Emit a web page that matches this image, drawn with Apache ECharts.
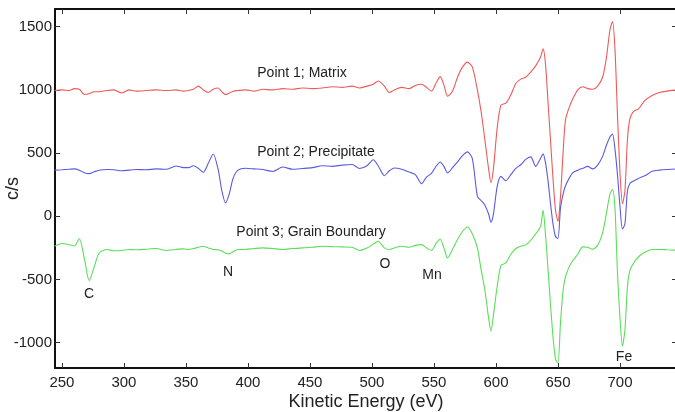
<!DOCTYPE html>
<html>
<head>
<meta charset="utf-8">
<script src="https://cdn.jsdelivr.net/npm/echarts@6/dist/echarts.min.js"></script>
<style>html,body{margin:0;padding:0;background:#fff}#c{width:675px;height:412px}</style>
</head>
<body>
<div id="c"></div>
<script>
// Kinetic energy grid (eV)
var energy = [244,250,256,260,264,268,272,276,280,286,292,298,304,310,318,326,334,342,348,352,356,360,364,368,372,376,379,382,385,388,392,398,405,412,420,428,436,444,452,460,468,476,484,490,496,501,505,510,514,518,524,530,535,540,544,548,552,555,558,561,565,569,573,577,581,585,588,591,594,596,598,601,604,608,612,616,620,624,628,632,636,638,640,642,644,646,648,650,652,654,656,659,662,666,670,674,678,682,686,689,692,694,696,698,700,702,704,706,708,711,715,720,726,732,738,746];

// Point 1; Matrix (c/s)
var matrix = [995,1000,995,1010,1005,965,970,985,985,995,1000,975,1000,990,995,1000,995,1000,990,995,1005,1030,1000,980,1005,1015,985,962,975,990,995,1000,990,1005,1000,1010,1005,1015,1010,1015,1025,1020,1030,1015,1030,1045,1070,1030,980,1000,1020,1010,1035,1045,1020,990,1060,1105,1040,950,990,1100,1180,1220,1180,1000,830,610,380,266,380,700,880,895,960,1050,1085,1100,1140,1190,1260,1325,1200,900,600,300,50,-40,150,480,760,860,930,1000,1025,1010,1005,1030,1100,1250,1480,1540,1320,800,350,100,200,600,770,830,850,915,955,980,990,1000];

// Point 2; Precipitate (c/s)
var precipitate = [365,368,372,375,365,345,338,352,365,370,368,360,365,370,368,375,372,398,385,385,400,380,348,420,493,369,200,106,180,300,365,380,375,370,355,390,372,378,385,400,395,405,410,378,400,448,400,321,360,382,372,350,330,258,310,340,400,430,395,343,385,430,480,510,455,160,125,90,20,-47,20,237,316,282,330,380,408,450,470,395,460,495,420,280,100,-60,-160,-175,60,170,240,300,345,365,380,395,375,405,474,560,630,651,530,330,80,-100,-60,200,260,280,300,320,356,365,370,375];

// Point 3; Grain Boundary (c/s)
var grainBoundary = [-237,-215,-225,-235,-175,-330,-510,-400,-290,-263,-272,-270,-262,-265,-260,-255,-270,-262,-258,-262,-255,-245,-237,-250,-262,-265,-275,-290,-297,-280,-263,-262,-255,-250,-255,-262,-255,-250,-245,-237,-240,-242,-245,-270,-250,-220,-197,-250,-263,-250,-237,-245,-230,-224,-250,-270,-210,-179,-250,-329,-260,-184,-120,-84,-140,-250,-420,-579,-800,-908,-780,-553,-390,-368,-300,-255,-237,-226,-190,-140,-80,47,-150,-420,-700,-950,-1130,-1160,-850,-600,-480,-400,-350,-300,-242,-245,-260,-230,-131,20,180,211,60,-450,-800,-1027,-900,-560,-430,-370,-320,-285,-263,-262,-265,-268];

var xTicks = [250,300,350,400,450,500,550,600,650,700];
var yTicks = [-1000,-500,0,500,1000,1500];

var annotations = [
  {text:'Point 1; Matrix', x:302, y:73},
  {text:'Point 2; Precipitate', x:316, y:152},
  {text:'Point 3; Grain Boundary', x:311, y:232},
  {text:'C', x:89, y:294},
  {text:'N', x:228, y:272},
  {text:'O', x:385, y:264},
  {text:'Mn', x:432, y:275},
  {text:'Fe', x:624, y:357}
];

function pairs(vals){ return energy.map(function(e,i){ return [e, vals[i]]; }); }
function plain(v){ return String(v); }

var FONT = '"Liberation Sans", Arial, sans-serif';
var axisLine = {show:true, onZero:false, lineStyle:{color:'#111', width:2}};
var tick = {show:true, inside:true, length:5, lineStyle:{color:'#333', width:1}};

var chart = echarts.init(document.getElementById('c'), null, {renderer:'canvas'});
chart.setOption({
  animation:false,
  backgroundColor:'#fff',
  grid:{left:55, top:9, width:622, height:359, containLabel:false, outerBoundsMode:'none'},
  xAxis:[
    {type:'value', min:244.4, max:746, position:'bottom',
     name:'Kinetic Energy (eV)', nameLocation:'middle', nameGap:25, nameMoveOverlap:false,
     nameTextStyle:{fontFamily:FONT, fontSize:18, color:'#222', verticalAlign:'top'},
     axisLine:axisLine, splitLine:{show:false},
     axisTick:Object.assign({}, tick, {customValues:xTicks}),
     axisLabel:{customValues:xTicks, formatter:plain, fontFamily:FONT, fontSize:15, color:'#222', margin:7}},
    {type:'value', min:244.4, max:746, position:'top',
     axisLine:axisLine, splitLine:{show:false},
     axisTick:Object.assign({}, tick, {customValues:xTicks}),
     axisLabel:{show:false}}
  ],
  yAxis:[
    {type:'value', min:-1200, max:1640, position:'left',
     name:'c/s', nameLocation:'middle', nameGap:33, nameRotate:90, nameMoveOverlap:false,
     nameTextStyle:{fontFamily:FONT, fontSize:18, color:'#222'},
     axisLine:axisLine, splitLine:{show:false},
     axisTick:Object.assign({}, tick, {customValues:yTicks}),
     axisLabel:{customValues:yTicks, formatter:plain, fontFamily:FONT, fontSize:15, color:'#222', margin:3}},
    {type:'value', min:-1200, max:1640, position:'right',
     axisLine:axisLine, splitLine:{show:false},
     axisTick:Object.assign({}, tick, {customValues:yTicks}),
     axisLabel:{show:false}}
  ],
  series:[
    {name:'Point 1; Matrix', type:'line', data:pairs(matrix), showSymbol:false, smooth:0.25,
     lineStyle:{color:'#ee5a5a', width:1.1}, itemStyle:{color:'#ee5a5a'}},
    {name:'Point 2; Precipitate', type:'line', data:pairs(precipitate), showSymbol:false, smooth:0.25,
     lineStyle:{color:'#5a5ae0', width:1.1}, itemStyle:{color:'#5a5ae0'}},
    {name:'Point 3; Grain Boundary', type:'line', data:pairs(grainBoundary), showSymbol:false, smooth:0.25,
     lineStyle:{color:'#5ade5a', width:1.1}, itemStyle:{color:'#5ade5a'}}
  ],
  graphic: annotations.map(function(a){
    return {type:'text', x:a.x, y:a.y, z:100,
      style:{text:a.text, font:'14px ' + FONT, fill:'#222', align:'center', verticalAlign:'middle'}};
  })
});
</script>
</body>
</html>
